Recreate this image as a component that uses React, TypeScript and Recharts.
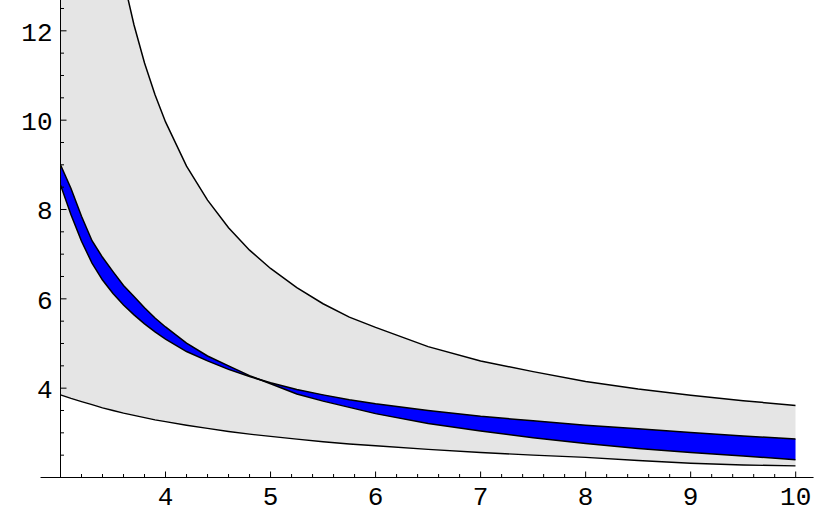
import { Area, ComposedChart, Line, ReferenceLine, XAxis, YAxis } from "recharts";

// sample points along x
const xs = [3, 3.1, 3.2, 3.3, 3.4, 3.5, 3.6, 3.7, 3.8, 3.9, 4, 4.2, 4.4, 4.6, 4.8, 5, 5.25, 5.5, 5.75, 6, 6.5, 7, 7.5, 8, 8.5, 9, 9.5, 10];

// grey band edges
const upperGray = [30.5, 24.6, 20.7, 18.0, 15.97, 14.4, 13.15, 12.13, 11.28, 10.57, 9.96, 8.97, 8.21, 7.59, 7.09, 6.68, 6.25, 5.89, 5.59, 5.36, 4.93, 4.61, 4.37, 4.15, 3.98, 3.84, 3.72, 3.61];
const lowerGray = [3.85, 3.77, 3.7, 3.63, 3.56, 3.5, 3.44, 3.39, 3.34, 3.29, 3.25, 3.17, 3.1, 3.03, 2.97, 2.92, 2.86, 2.8, 2.75, 2.71, 2.63, 2.56, 2.5, 2.45, 2.38, 2.32, 2.28, 2.26];

// blue band edges (they cross near x = 4.9)
const blueA = [9.0, 8.47, 7.85, 7.3, 6.93, 6.61, 6.3, 6.05, 5.8, 5.57, 5.37, 5.01, 4.72, 4.5, 4.28, 4.1, 3.87, 3.71, 3.57, 3.43, 3.21, 3.04, 2.89, 2.76, 2.65, 2.56, 2.48, 2.4];
const blueB = [8.55, 7.88, 7.29, 6.8, 6.42, 6.12, 5.86, 5.64, 5.44, 5.26, 5.1, 4.82, 4.61, 4.42, 4.26, 4.12, 3.97, 3.85, 3.74, 3.65, 3.5, 3.37, 3.27, 3.17, 3.09, 3.01, 2.93, 2.86];

const xTicks = [3.2, 3.4, 3.6, 3.8, 4, 4.2, 4.4, 4.6, 4.8, 5, 5.2, 5.4, 5.6, 5.8, 6, 6.2, 6.4, 6.6, 6.8, 7, 7.2, 7.4, 7.6, 7.8, 8, 8.2, 8.4, 8.6, 8.8, 9, 9.2, 9.4, 9.6, 9.8, 10];
const xLabels = [4, 5, 6, 7, 8, 9, 10];
const yTicks = [2.5, 3, 3.5, 4, 4.5, 5, 5.5, 6, 6.5, 7, 7.5, 8, 8.5, 9, 9.5, 10, 10.5, 11, 11.5, 12, 12.5];
const yLabels = [4, 6, 8, 10, 12];

const rows = xs.map((x, i) => ({
  x,
  gray: [lowerGray[i], upperGray[i]],
  blue: [Math.min(blueA[i], blueB[i]), Math.max(blueA[i], blueB[i])],
  upper: upperGray[i],
  lower: lowerGray[i],
  a: blueA[i],
  b: blueB[i],
}));

const font = "'Liberation Mono', 'DejaVu Sans Mono', monospace";

function XTick({ x, y, payload }: any) {
  const major = xLabels.includes(payload.value);
  return (
    <g>
      <line x1={x} x2={x} y1={y} y2={y - (major ? 6 : 3.5)} stroke="#000" strokeWidth={1} />
      {major && (
        <text x={x} y={y + 27} textAnchor="middle" fontFamily={font} fontSize={26} fill="#000">
          {payload.value}
        </text>
      )}
    </g>
  );
}

function YTick({ x, y, payload }: any) {
  const major = yLabels.includes(payload.value);
  return (
    <g>
      <line x1={x} x2={x + (major ? 6 : 3.5)} y1={y} y2={y} stroke="#000" strokeWidth={1} />
      {major && (
        <text x={x - 8} y={y + 10} textAnchor="end" fontFamily={font} fontSize={26} fill="#000">
          {payload.value}
        </text>
      )}
    </g>
  );
}

export default function App() {
  return (
    <div style={{ position: "absolute", left: 0, top: 0 }}>
      <ComposedChart width={830} height={513} data={rows} margin={{ top: 0, right: 34.3, bottom: 0.5, left: 0.5 }}>
        <Area dataKey="gray" type="linear" fill="#e5e5e5" fillOpacity={1} stroke="none" isAnimationActive={false} />
        <Line dataKey="upper" type="linear" stroke="#000" strokeWidth={1.5} dot={false} activeDot={false} isAnimationActive={false} />
        <Line dataKey="lower" type="linear" stroke="#000" strokeWidth={1.4} dot={false} activeDot={false} isAnimationActive={false} />
        <Area dataKey="blue" type="linear" fill="#0000ff" fillOpacity={1} stroke="none" isAnimationActive={false} />
        <Line dataKey="a" type="linear" stroke="#000" strokeWidth={1.5} dot={false} activeDot={false} isAnimationActive={false} />
        <Line dataKey="b" type="linear" stroke="#000" strokeWidth={1.5} dot={false} activeDot={false} isAnimationActive={false} />
        <XAxis
          dataKey="x"
          type="number"
          domain={[3, 10]}
          ticks={xTicks}
          interval={0}
          height={35}
          axisLine={false}
          tickLine={false}
          tickSize={0}
          tickMargin={0}
          tick={<XTick />}
          allowDataOverflow
        />
        <YAxis
          type="number"
          domain={[2, 12.69]}
          ticks={yTicks}
          interval={0}
          width={60}
          axisLine={{ stroke: "#000", strokeWidth: 1 }}
          tickLine={false}
          tickSize={0}
          tickMargin={0}
          tick={<YTick />}
          allowDataOverflow
        />
        <ReferenceLine
          segment={[
            { x: 2.81, y: 2 },
            { x: 10.17, y: 2 },
          ]}
          ifOverflow="visible"
          stroke="#000"
          strokeWidth={1}
        />
      </ComposedChart>
    </div>
  );
}
